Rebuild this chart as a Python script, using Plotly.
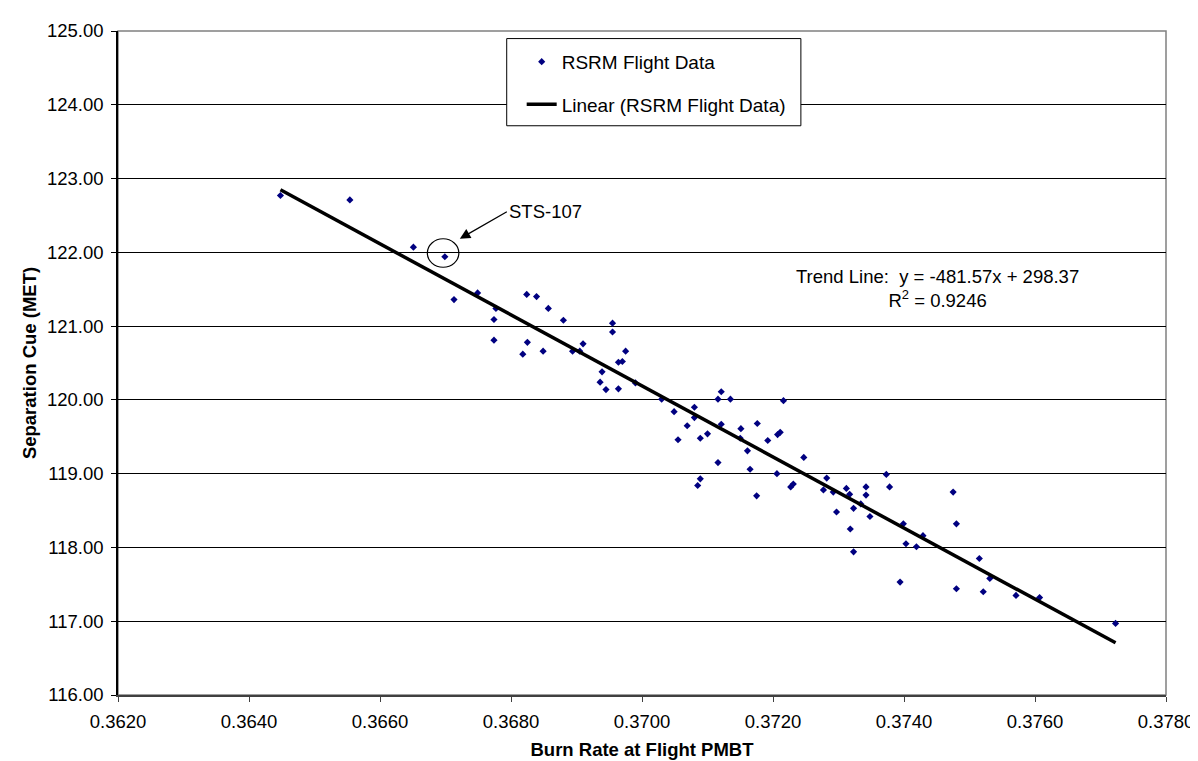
import plotly.graph_objects as go

# Burn rate at flight PMBT (x) and separation cue MET (y)
x_burn = [0.36448, 0.36554, 0.36651, 0.36699, 0.36713, 0.36749, 0.36777, 0.36774, 0.36774,
          0.36824, 0.36839, 0.36857, 0.36880, 0.36825, 0.36818, 0.36849, 0.36894, 0.36905,
          0.36910, 0.36955, 0.36955, 0.36975, 0.36939, 0.36936, 0.36945, 0.36964, 0.36970,
          0.36964, 0.36990, 0.37030, 0.37049, 0.37055, 0.37069, 0.37080, 0.37080, 0.37089,
          0.37100, 0.37085, 0.37089, 0.37116, 0.37121, 0.37135, 0.37121, 0.37116, 0.37151,
          0.37150, 0.37161, 0.37165, 0.37176, 0.37175, 0.37192, 0.37207, 0.37211, 0.37216,
          0.37206, 0.37227, 0.37231, 0.37247, 0.37277, 0.37282, 0.37292, 0.37312, 0.37317,
          0.37323, 0.37334, 0.37342, 0.37342, 0.37297, 0.37348, 0.37318, 0.37323, 0.37373,
          0.37378, 0.37399, 0.37403, 0.37419, 0.37429, 0.37394, 0.37475, 0.37480, 0.37480,
          0.37515, 0.37531, 0.37521, 0.37571, 0.37607, 0.37723]
y_sep = [122.77, 122.71, 122.07, 121.94, 121.36, 121.45, 121.24, 121.09, 120.81,
         121.43, 121.40, 121.24, 121.08, 120.78, 120.62, 120.66, 120.66, 120.66,
         120.76, 121.04, 120.92, 120.66, 120.38, 120.24, 120.14, 120.51, 120.52,
         120.15, 120.23, 120.01, 119.84, 119.46, 119.65, 119.90, 119.76, 119.48,
         119.54, 118.84, 118.93, 120.01, 120.11, 120.01, 119.67, 119.15, 119.61,
         119.48, 119.31, 119.06, 119.68, 118.70, 119.45, 119.53, 119.56, 119.99,
         119.00, 118.82, 118.86, 119.22, 118.78, 118.94, 118.75, 118.80, 118.72,
         118.53, 118.59, 118.82, 118.71, 118.48, 118.42, 118.25, 117.94, 118.99,
         118.82, 118.32, 118.05, 118.01, 118.16, 117.53, 118.75, 118.32, 117.44,
         117.85, 117.58, 117.40, 117.35, 117.32, 116.97]

# Trend line coefficients (from the chart's equation)
slope = -481.57
intercept = 298.37
r_squared = 0.9246

# Highlighted flight
sts_label = "STS-107"
sts_index = 3

x_ticks = [0.3620, 0.3640, 0.3660, 0.3680, 0.3700, 0.3720, 0.3740, 0.3760, 0.3780]
y_ticks = [116, 117, 118, 119, 120, 121, 122, 123, 124, 125]

FONT = "Liberation Sans, Arial, sans-serif"

trend_x = [min(x_burn), max(x_burn)]
trend_y = [slope * v + intercept for v in trend_x]

fig = go.Figure()
fig.add_trace(go.Scatter(
    x=x_burn, y=y_sep, mode="markers", name="RSRM Flight Data",
    marker=dict(symbol="diamond", size=5.5, color="#000080"),
    legendgroup="a",
))
fig.add_trace(go.Scatter(
    x=trend_x, y=trend_y, mode="lines", name="Linear (RSRM Flight Data)",
    line=dict(color="black", width=3.5),
    legendgroup="b",
))

sx, sy = x_burn[sts_index], y_sep[sts_index]

fig.update_layout(
    width=1198, height=761,
    margin=dict(l=110, r=39, t=14, b=74),
    paper_bgcolor="white", plot_bgcolor="white",
    font=dict(family=FONT, size=18.5, color="black"),
    showlegend=True,
    legend=dict(
        x=0.3852, y=0.9822, xanchor="left", yanchor="top",
        bgcolor="rgba(0,0,0,0)", borderwidth=0,
        font=dict(family=FONT, size=19, color="black"),
        tracegroupgap=15,
    ),
    xaxis=dict(
        range=[0.362, 0.378], tickvals=x_ticks, tickformat=".4f",
        showgrid=False, zeroline=False,
        showline=True, linecolor="#404040", linewidth=2,
        ticks="outside", ticklen=5, tickcolor="#404040", tickwidth=1,
        ticklabelstandoff=4,
        tickfont=dict(family=FONT, size=18.5, color="black"),
        title=dict(text="<b>Burn Rate at Flight PMBT</b>", standoff=12,
                   font=dict(family=FONT, size=18.5, color="black")),
    ),
    yaxis=dict(
        range=[116, 125], tickvals=y_ticks, tickformat=".2f",
        showgrid=True, gridcolor="#000000", gridwidth=1, zeroline=False,
        showline=True, linecolor="black", linewidth=1.5,
        ticks="outside", ticklen=5, tickcolor="black", tickwidth=1,
        ticklabelstandoff=4,
        tickfont=dict(family=FONT, size=18.5, color="black"),
        title=dict(text="<b>Separation Cue (MET)</b>", standoff=5,
                   font=dict(family=FONT, size=18.5, color="black")),
    ),
    shapes=[
        dict(type="rect", xref="paper", yref="paper", x0=0, x1=1, y0=0, y1=1,
             line=dict(color="#808080", width=1.5), layer="below"),
        # legend frame
        dict(type="rect", xref="paper", yref="paper", x0=0.3709, x1=0.6516,
             y0=0.8573, y1=0.9886, fillcolor="white",
             line=dict(color="black", width=1), layer="above"),
        dict(type="circle", xref="x", yref="y", xsizemode="pixel", ysizemode="pixel",
             xanchor=sx, yanchor=sy, x0=-17.5, x1=14, y0=-10.5, y1=18,
             line=dict(color="black", width=1.2)),
    ],
    annotations=[
        dict(x=sx, y=sy, xref="x", yref="y", xshift=15, yshift=18,
             text=sts_label, showarrow=True, ax=47, ay=-27,
             xanchor="left", yanchor="middle",
             arrowhead=2, arrowsize=1.6, arrowwidth=1.3, arrowcolor="black",
             font=dict(family=FONT, size=18.5, color="black")),
        dict(x=0.782, y=0.612, xref="paper", yref="paper",
             xanchor="center", yanchor="middle",
             text=f"Trend Line:  y = {slope:.2f}x + {intercept:.2f}<br>R<sup>2</sup> = {r_squared:.4f}",
             showarrow=False, align="center",
             font=dict(family=FONT, size=18.5, color="black")),
    ],
)

fig.write_html("out.html")
